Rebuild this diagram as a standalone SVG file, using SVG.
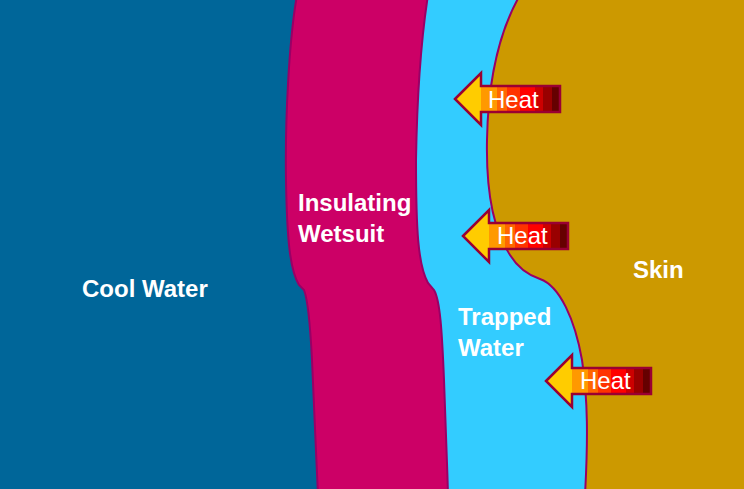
<svg xmlns="http://www.w3.org/2000/svg" width="744" height="489" viewBox="0 0 744 489">
  <style>
    .region { stroke: #990066; stroke-width: 2; }
    .label { font-family: "Liberation Sans", Arial, sans-serif; font-size: 24px; font-weight: bold; fill: #ffffff; }
    .heat { font-family: "Liberation Sans", Arial, sans-serif; font-size: 24px; fill: #ffffff; }
    .arrow { fill: url(#heatGrad); stroke: #990033; stroke-width: 2.5; stroke-linejoin: miter; }
  </style>
  <defs>
    <linearGradient id="heatGrad" x1="0" y1="0" x2="1" y2="0">
      <stop offset="0" stop-color="#FFCC00"/>
      <stop offset="0.248" stop-color="#FFCC00"/>
      <stop offset="0.248" stop-color="#FF9900"/>
      <stop offset="0.40" stop-color="#FF9900"/>
      <stop offset="0.40" stop-color="#FF6600"/>
      <stop offset="0.50" stop-color="#FF6600"/>
      <stop offset="0.50" stop-color="#FF3300"/>
      <stop offset="0.62" stop-color="#FF3300"/>
      <stop offset="0.62" stop-color="#FF0000"/>
      <stop offset="0.76" stop-color="#FF0000"/>
      <stop offset="0.76" stop-color="#CC0000"/>
      <stop offset="0.84" stop-color="#CC0000"/>
      <stop offset="0.84" stop-color="#990000"/>
      <stop offset="0.92" stop-color="#990000"/>
      <stop offset="0.92" stop-color="#660000"/>
      <stop offset="1" stop-color="#660000"/>
    </linearGradient>
    <path id="heatArrow" class="arrow" d="M0,0 L26,-26 L26,-13 L105,-13 L105,13 L26,13 L26,26 Z"/>
  </defs>

  <g id="cool-water">
    <rect x="0" y="0" width="744" height="489" fill="#006699"/>
    <text class="label" x="82" y="297">Cool Water</text>
  </g>

  <g id="wetsuit">
    <path class="region" fill="#CC0066" d="M297,-5 C289,40 285,120 286,180 C287,240 290,270 299,285 L304,290 C308,300 310,320 312,360 C314,410 316,450 318,495 L760,495 L760,-5 Z"/>
    <text class="label" x="298" y="211">Insulating</text>
    <text class="label" x="298" y="242">Wetsuit</text>
  </g>

  <g id="trapped-water">
    <path class="region" fill="#33CCFF" d="M428,-5 C421,40 417,100 416,160 C416,230 418,265 428,283 L434,290 C440,300 442,330 444,380 C446,430 447,460 448,495 L760,495 L760,-5 Z"/>
    <text class="label" x="458" y="325">Trapped</text>
    <text class="label" x="458" y="356">Water</text>
  </g>

  <g id="skin">
    <path class="region" fill="#CC9900" d="M520,-5 C500,30 488,80 487,140 C486,190 493,230 510,255 C518,268 528,275 540,279 C560,286 575,320 582,360 C588,400 588,440 585,495 L760,495 L760,-5 Z"/>
    <text class="label" x="633" y="278">Skin</text>
  </g>

  <g id="connectors">
    <g id="heat-1">
      <use href="#heatArrow" transform="translate(455,99)"/>
      <text class="heat" x="488" y="108">Heat</text>
    </g>
    <g id="heat-2">
      <use href="#heatArrow" transform="translate(463,236)"/>
      <text class="heat" x="497" y="244">Heat</text>
    </g>
    <g id="heat-3">
      <use href="#heatArrow" transform="translate(546,381)"/>
      <text class="heat" x="580" y="389">Heat</text>
    </g>
  </g>
</svg>
